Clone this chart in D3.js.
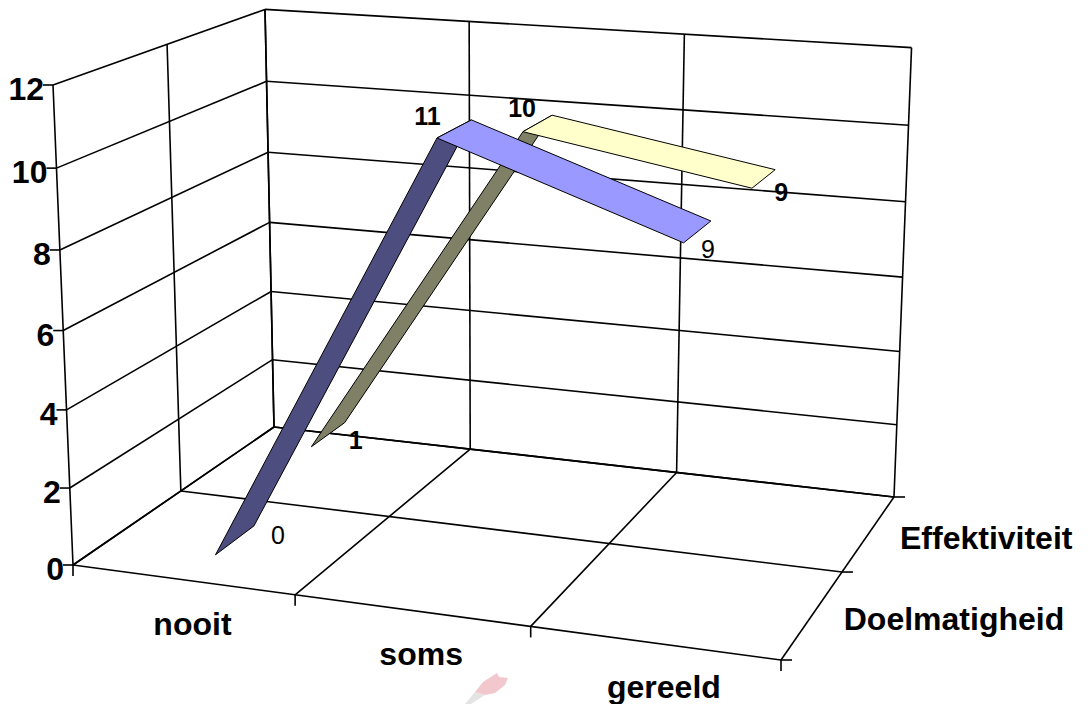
<!DOCTYPE html>
<html>
<head>
<meta charset="utf-8">
<script src="https://cdnjs.cloudflare.com/ajax/libs/d3/7.8.5/d3.min.js"></script>
<style>
  body { margin: 0; background: #fff; }
  text { font-family: "Liberation Sans", Arial, sans-serif; fill: #000; }
  .tick-label { font-size: 32px; font-weight: bold; }
  .axis-label { font-size: 32px; font-weight: bold; }
  .value-label { font-size: 25px; }
  .grid { stroke: #000; stroke-width: 1.6; fill: none; }
  .ribbon { stroke: #000; stroke-width: 1; stroke-linejoin: round; }
</style>
</head>
<body>
<svg id="chart" width="1088" height="704"></svg>
<script>
const categories = ["nooit", "soms", "gereeld"];
const seriesNames = ["Doelmatigheid", "Effektiviteit"];
const doelmatigheid = [0, 11, 9];
const effektiviteit = [1, 10, 9];
const seriesValues = [doelmatigheid, effektiviteit];
const valueTicks = [0, 2, 4, 6, 8, 10, 12];

const seriesColors = [
    { top: "#9999ff", side: "#4d4d80" },
    { top: "#ffffcc", side: "#808066" }
];

// label offsets from the back edge of the ribbon, per series and category
const labelOffsets = [
    [[24, 18], [-44, 5], [-3, 37]],
    [[11, 26], [-30, 2], [6, 31]]
];

// screen corners of the 3d box
const O = [73, 565], X = [781, 660], XZ = [894, 497], Z = [274, 427], Y = [53, 85], YZ = [265, 11];

// unit square to floor quad (heckbert), origin has weight 1
function floorMatrix() {
    const sx = O[0] - X[0] + XZ[0] - Z[0], sy = O[1] - X[1] + XZ[1] - Z[1];
    const dx1 = X[0] - XZ[0], dx2 = Z[0] - XZ[0], dy1 = X[1] - XZ[1], dy2 = Z[1] - XZ[1];
    const den = dx1 * dy2 - dx2 * dy1;
    const g = (sx * dy2 - dx2 * sy) / den, h = (dx1 * sy - sx * dy1) / den;
    return {
        a: [X[0] - O[0] + g * X[0], X[1] - O[1] + g * X[1], g],
        c: [Z[0] - O[0] + h * Z[0], Z[1] - O[1] + h * Z[1], h],
        d: [O[0], O[1], 1]
    };
}
const m = floorMatrix();
// height axis: weight s comes from the two top left corners
const s = (m.c[0] - YZ[0] * m.c[2]) / (YZ[0] - Y[0]);
const b = [s * Y[0] - O[0], s * Y[1] - O[1], s - 1];

// u along categories, h up, v into the depth, all 0..1
function project(u, h, v) {
    const p = [0, 1, 2].map(i => m.a[i] * u + b[i] * h + m.c[i] * v + m.d[i]);
    return [p[0] / p[2], p[1] / p[2]];
}

const xScale = d3.scaleBand().domain(categories).range([0, 1]);
const zScale = d3.scaleBand().domain(seriesNames).range([0, 1]);
const yScale = d3.scaleLinear().domain([0, 12]).range([0, 1]);
const xCenter = c => xScale(c) + xScale.bandwidth() / 2;
const zCenter = n => zScale(n) + zScale.bandwidth() / 2;
const ribbonDepth = 0.095;

const svg = d3.select("#chart");
const grid = svg.append("g");

function gridLine(p1, p2) {
    grid.append("line").attr("class", "grid")
        .attr("x1", p1[0]).attr("y1", p1[1])
        .attr("x2", p2[0]).attr("y2", p2[1]);
}

// walls, horizontal lines per tick
valueTicks.forEach(t => {
    const h = yScale(t);
    gridLine(project(0, h, 0), project(0, h, 1));
    gridLine(project(0, h, 1), project(1, h, 1));
    const p = project(0, h, 0);
    gridLine([p[0] - 10, p[1]], p);
    svg.append("text").attr("class", "tick-label")
        .attr("x", p[0] - 9).attr("y", p[1] + 15)
        .attr("text-anchor", "end").text(t);
});

// verticals and floor lines at band edges
const xEdges = [0, 1, 2, 3].map(i => i * xScale.step());
const zEdges = [0, 1, 2].map(i => i * zScale.step());
xEdges.forEach(u => {
    gridLine(project(u, 0, 1), project(u, 1, 1));
    gridLine(project(u, 0, 0), project(u, 0, 1));
    const p = project(u, 0, 0);
    gridLine(p, [p[0], p[1] + 11]);
});
zEdges.forEach(v => {
    gridLine(project(0, 0, v), project(0, 1, v));
    gridLine(project(0, 0, v), project(1, 0, v));
    const p = project(1, 0, v);
    gridLine(p, [p[0] + 11, p[1]]);
});

// category and series labels
categories.forEach(c => {
    const p = project(xCenter(c), 0, 0);
    svg.append("text").attr("class", "axis-label")
        .attr("x", p[0] + 10).attr("y", p[1] + 55)
        .attr("text-anchor", "middle").text(c);
});
seriesNames.forEach(n => {
    const p = project(1, 0, zCenter(n));
    svg.append("text").attr("class", "axis-label")
        .attr("x", p[0] + 31).attr("y", p[1] + 16)
        .text(n);
});

// back series first so the front ribbon lies over it
d3.range(seriesNames.length - 1, -1, -1).forEach(si => {
    const name = seriesNames[si];
    const vals = seriesValues[si];
    const v = zCenter(name);
    const g = svg.append("g");
    const corners = categories.map((c, i) => ({
        front: project(xCenter(c), yScale(vals[i]), v - ribbonDepth),
        back: project(xCenter(c), yScale(vals[i]), v + ribbonDepth)
    }));
    d3.range(categories.length - 1).forEach(i => {
        const a = corners[i], e = corners[i + 1];
        g.append("polygon").attr("class", "ribbon")
            .attr("points", [a.front, a.back, e.back, e.front].map(q => q.join(",")).join(" "))
            .attr("fill", vals[i + 1] > vals[i] ? seriesColors[si].side : seriesColors[si].top);
    });
    vals.forEach((val, i) => {
        const p = corners[i].back;
        const off = labelOffsets[si][i];
        g.append("text").attr("class", "value-label")
            .attr("x", p[0] + off[0]).attr("y", p[1] + off[1])
            .attr("text-anchor", "middle")
            .attr("font-weight", si === 0 && i !== 1 ? "normal" : "bold")
            .text(val);
    });
});

// faint brush watermark under the axis
svg.append("path").attr("fill", "#e4e4e4")
    .attr("d", "M475,692 L485,695 L471,704 L465,704 Z");
svg.append("path").attr("fill", "#f2c8ce")
    .attr("d", "M475,692 L483,682 L497,673 L499,677 L508,678 L505,685 L495,693 L485,695 Z");
</script>
</body>
</html>
